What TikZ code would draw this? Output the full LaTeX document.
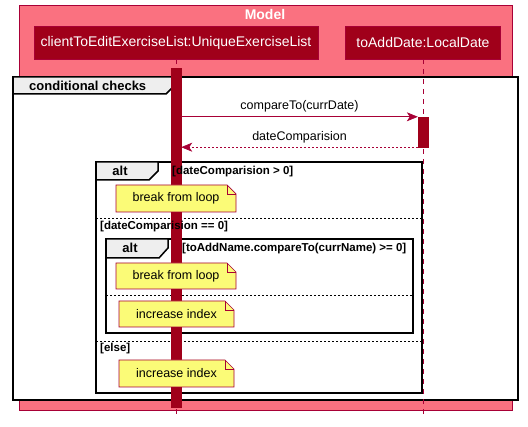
\documentclass[tikz,border=0pt]{standalone}
\usepackage{fontspec}
\setmainfont{Liberation Sans}
\usetikzlibrary{calc,arrows.meta}
\definecolor{modelpink}{RGB}{250,113,128}
\definecolor{partred}{RGB}{160,0,26}
\definecolor{lineRed}{RGB}{168,0,54}
\definecolor{notefill}{RGB}{251,251,119}
\definecolor{tabgray}{RGB}{238,238,238}
\newcommand{\umlnote}[6]{%
	\draw[notestyle] (#2,#3) -- ({#4-9},#3) -- (#4,{#3+9}) -- (#4,#5) -- (#2,#5) -- cycle;
	\draw[notestyle, fill=none] ({#4-9},#3) -- ({#4-9},{#3+9}) -- (#4,{#3+9});
	\node[notetext] (#1) at ({(#2+#4)/2},{(#3+#5)/2}) {#6};}
\tikzset{
	participant/.style={fill=partred, draw=lineRed, text=white, minimum height=33pt, inner sep=0pt, font=\fontsize{14}{16}\selectfont},
	lifeline/.style={draw=lineRed, dash pattern=on 5pt off 5pt, line width=0.6pt},
	activation/.style={fill=partred, draw=partred, minimum width=10pt, inner sep=0pt},
	frameline/.style={draw=black, line width=1.5pt},
	tablabel/.style={font=\bfseries\fontsize{13}{15}\selectfont, inner sep=0pt},
	guard/.style={font=\bfseries\fontsize{11.5}{13}\selectfont, inner sep=0pt, anchor=west},
	separator/.style={draw=black, dash pattern=on 2pt off 2pt, line width=0.6pt},
	notestyle/.style={fill=notefill, draw=lineRed, line width=0.7pt},
	notetext/.style={font=\fontsize{12.5}{14}\selectfont, inner sep=0pt},
	msg/.style={draw=lineRed, line width=0.7pt, -{Stealth[length=11pt,width=9pt,inset=3pt]}},
	ret/.style={msg, dash pattern=on 2pt off 2pt},
	msglabel/.style={font=\fontsize{12.5}{14}\selectfont, above=4pt, inner sep=0pt, text=black}
}
\begin{document}
\begin{tikzpicture}[x=1pt,y=-1pt]
	\useasboundingbox (0,0) rectangle (528,427);
	%%%%% MODEL BOX %%%%%
	\draw[fill=modelpink, draw=lineRed, line width=0.7pt] (19,5) rectangle (512,410);
	\node[font=\bfseries\fontsize{14}{16}\selectfont, text=white] (model) at (265,15) {Model};
	
	\node[participant, minimum width=284pt] (client) at (176,42.5) {clientToEditExerciseList:UniqueExerciseList};
	\node[participant, minimum width=155pt] (date) at (423,42.5) {toAddDate:LocalDate};
	
	%%%%% CONDITIONAL CHECKS %%%%%
	\draw[frameline, fill=white] (13,77) rectangle (518,400);
	\draw[frameline, fill=tabgray] (13,77) -- (176,77) -- (176,84) -- (166,94) -- (13,94) -- cycle;
	\node[tablabel, anchor=west] (condtab) at (29,86) {conditional checks};
	
	\coordinate (clientEnd) at (176,418);
	\coordinate (dateEnd) at (423,418);
	\draw[lifeline] (client) -- (clientEnd);
	\draw[lifeline] (date) -- (dateEnd);
	
	%%%%% ALT FRAMES %%%%%
	\draw[frameline] (96,162) rectangle (422,393);
	\draw[frameline, fill=tabgray] (96,162) -- (158,162) -- (158,171) -- (149,180) -- (96,180) -- cycle;
	\node[tablabel] (alttab) at (120,171) {alt};
	\draw[separator] (96,218) -- (422,218);
	\draw[separator] (96,341) -- (422,341);
	
	\draw[frameline] (106,239) rectangle (413,333);
	\draw[frameline, fill=tabgray] (106,239) -- (168,239) -- (168,248) -- (159,258) -- (106,258) -- cycle;
	\node[tablabel] (innertab) at (130,248) {alt};
	\draw[separator] (106,295) -- (413,295);
	
	%%%%% ACTIVATIONS %%%%%
	\node[activation, minimum height=339pt] (clientAct) at (176,237.5) {};
	\node[activation, minimum height=30pt] (dateAct) at (423,132) {};
	
	\draw[msg] (clientAct.east |- dateAct.north) -- (dateAct.north west) node[midway, msglabel] {compareTo(currDate)};
	\draw[ret] (dateAct.south west) -- (clientAct.east |- dateAct.south) node[midway, msglabel] {dateComparision};
	
	\node[guard] (guardA) at (172,172) {[dateComparision > 0]};
	\node[guard] (guardB) at (100,227) {[dateComparision == 0]};
	\node[guard] (guardC) at (182,249) {[toAddName.compareTo(currName) >= 0]};
	\node[guard] (guardD) at (100,349) {[else]};
	
	%%%%% NOTES %%%%%
	\umlnote{breakA}{116}{185}{236}{212}{break from loop}
	\umlnote{breakB}{116}{263}{236}{289}{break from loop}
	\umlnote{incA}{119}{301}{234}{327}{increase index}
	\umlnote{incB}{119}{360}{234}{387}{increase index}
\end{tikzpicture}
\end{document}
